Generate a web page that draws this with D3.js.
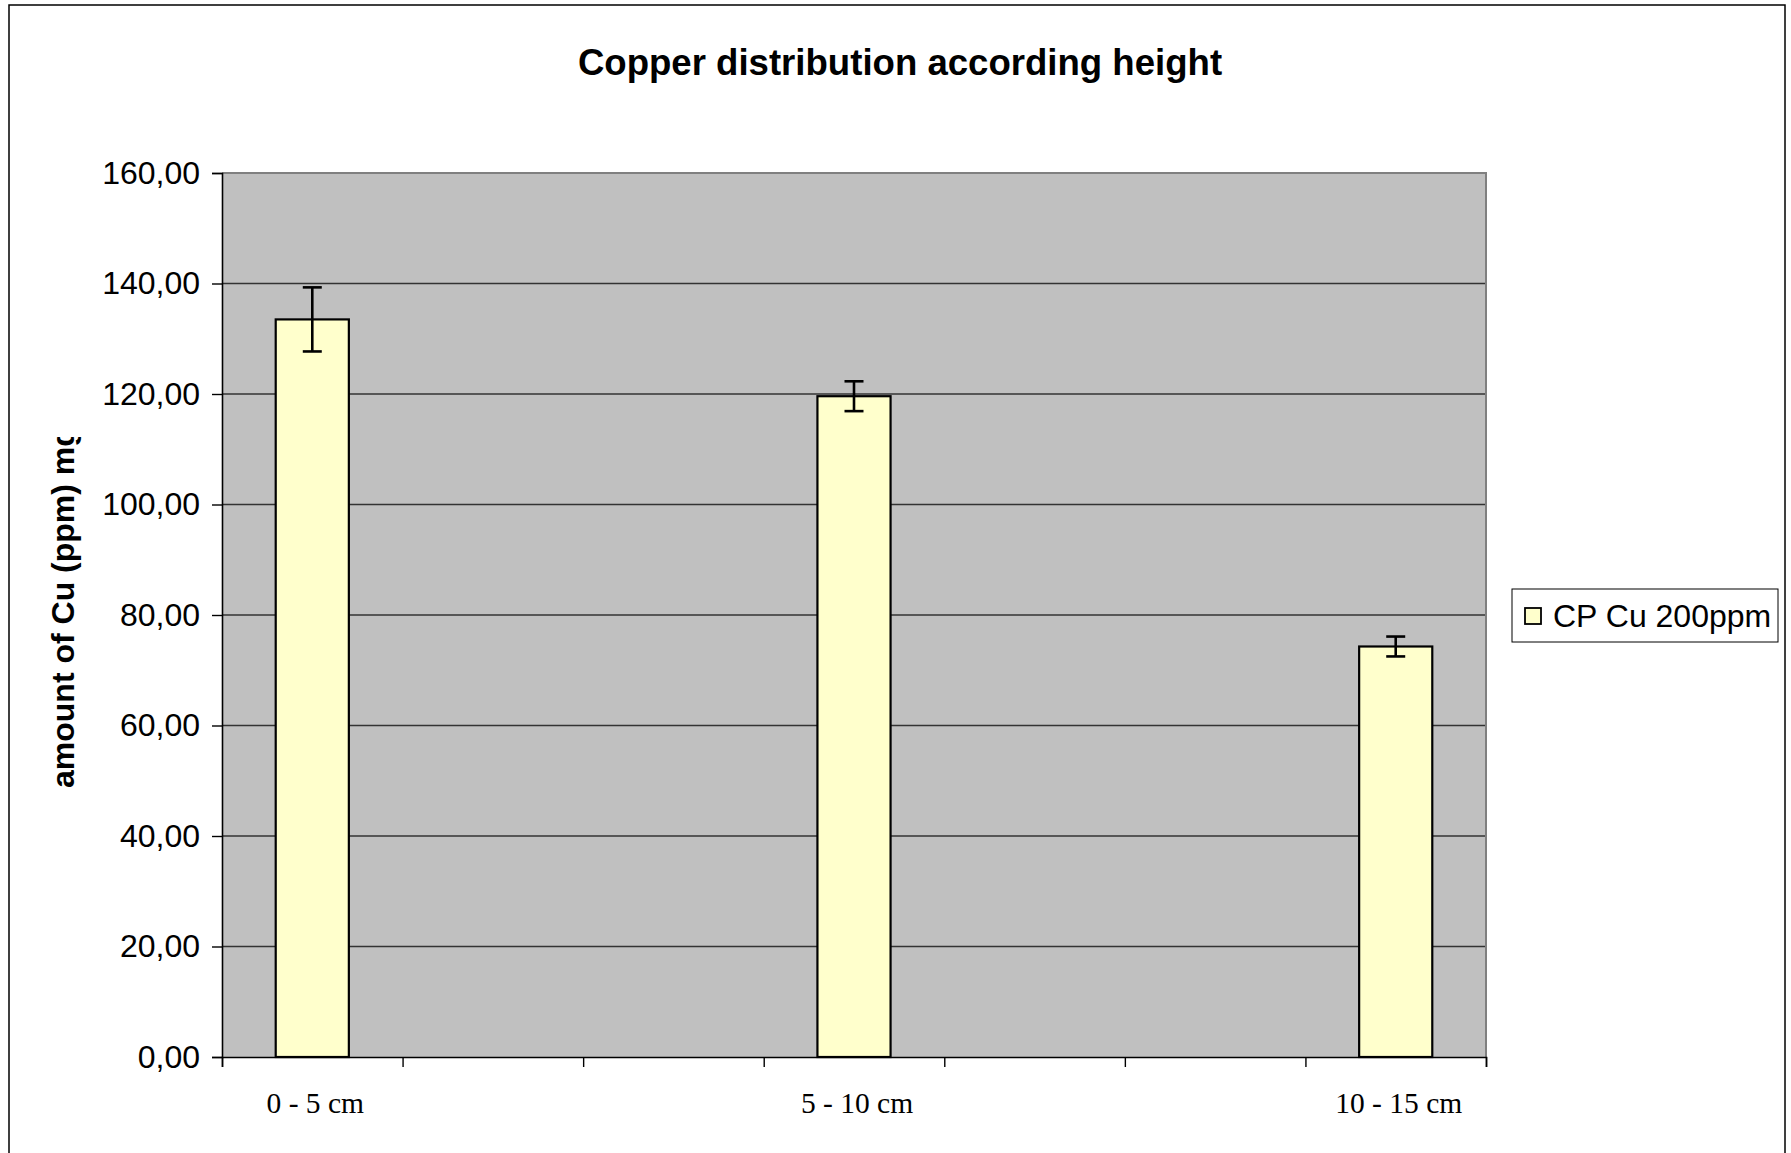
<!DOCTYPE html>
<html>
<head>
<meta charset="utf-8">
<script src="https://cdn.jsdelivr.net/npm/d3@7"></script>
<style>
  html, body { margin: 0; padding: 0; background: #ffffff; }
  svg { display: block; }
</style>
</head>
<body>
<svg id="chart" width="1791" height="1153"></svg>
<script>
// ---- data ----
const title = "Copper distribution according height";
const yAxisTitle = "amount of Cu (ppm) mg/kg";
const seriesName = "CP Cu 200ppm";
const categories = ["0 - 5 cm", "", "", "5 - 10 cm", "", "", "10 - 15 cm"];
const values = [133.5, null, null, 119.6, null, null, 74.3];
const errors = [5.8, null, null, 2.7, null, null, 1.8];
const yTicks = [0, 20, 40, 60, 80, 100, 120, 140, 160];

// ---- layout ----
const svg = d3.select("#chart");
const plot = { left: 222, right: 1486, top: 173, bottom: 1057 };

// outer frame
svg.append("rect")
  .attr("x", 9).attr("y", 5)
  .attr("width", 1776).attr("height", 1170)
  .attr("fill", "#ffffff").attr("stroke", "#000").attr("stroke-width", 1.5);

const x = d3.scaleBand()
  .domain(d3.range(categories.length))
  .range([plot.left, plot.right])
  .paddingInner(0).paddingOuter(0);
const xEdge = d3.scaleLinear().domain([0, categories.length]).range([plot.left, plot.right]);
const y = d3.scaleLinear().domain([0, 160]).range([plot.bottom, plot.top]);

// plot background
svg.append("rect")
  .attr("x", plot.left).attr("y", plot.top)
  .attr("width", plot.right - plot.left).attr("height", plot.bottom - plot.top)
  .attr("fill", "#c0c0c0");

// gridlines
svg.append("g").selectAll("line")
  .data(yTicks.filter(d => d > 0 && d < 160))
  .join("line")
  .attr("x1", plot.left).attr("x2", plot.right)
  .attr("y1", d => y(d)).attr("y2", d => y(d))
  .attr("stroke", "#333").attr("stroke-width", 1.4);

// plot top/right border
svg.append("path")
  .attr("d", `M${plot.left},${plot.top}H${plot.right}V${plot.bottom}`)
  .attr("fill", "none").attr("stroke", "#808080").attr("stroke-width", 2);

// bars
const barW = x.bandwidth() * 0.405;
const data = categories.map((c, i) => ({ i, c, v: values[i], e: errors[i] })).filter(d => d.v != null);

svg.append("g").selectAll("rect")
  .data(data)
  .join("rect")
  .attr("x", d => x(d.i) + x.bandwidth() / 2 - barW / 2)
  .attr("y", d => y(d.v))
  .attr("width", barW)
  .attr("height", d => y(0) - y(d.v))
  .attr("fill", "#ffffcc")
  .attr("stroke", "#000").attr("stroke-width", 2.2);

// error bars
const capW = 19;
const eg = svg.append("g").attr("stroke", "#000").attr("stroke-width", 2.6);
data.forEach(d => {
  const cx = x(d.i) + x.bandwidth() / 2;
  eg.append("line").attr("x1", cx).attr("x2", cx).attr("y1", y(d.v + d.e)).attr("y2", y(d.v - d.e));
  eg.append("line").attr("x1", cx - capW / 2).attr("x2", cx + capW / 2).attr("y1", y(d.v + d.e)).attr("y2", y(d.v + d.e));
  eg.append("line").attr("x1", cx - capW / 2).attr("x2", cx + capW / 2).attr("y1", y(d.v - d.e)).attr("y2", y(d.v - d.e));
});

// y axis
const yAxis = svg.append("g")
  .attr("transform", `translate(${plot.left},0)`)
  .call(d3.axisLeft(y).tickValues(yTicks).tickSize(10).tickPadding(12)
    .tickFormat(d => d.toFixed(2).replace(".", ",")));
yAxis.select(".domain").attr("stroke", "#000").attr("stroke-width", 1.6);
yAxis.selectAll(".tick line").attr("stroke", "#000").attr("stroke-width", 1.4);
yAxis.selectAll(".tick text")
  .attr("font-family", "'Liberation Sans', Arial, sans-serif")
  .attr("font-size", 32).attr("fill", "#000");

// x axis (ticks at category boundaries)
const xAxis = svg.append("g")
  .attr("transform", `translate(0,${plot.bottom})`)
  .call(d3.axisBottom(xEdge).tickValues(d3.range(categories.length + 1)).tickSize(10).tickFormat(""));
xAxis.select(".domain").attr("stroke", "#000").attr("stroke-width", 1.6);
xAxis.selectAll(".tick line").attr("stroke", "#000").attr("stroke-width", 1.4);

// x category labels
svg.append("g").selectAll("text")
  .data(categories.map((c, i) => ({ c, i })).filter(d => d.c !== ""))
  .join("text")
  .attr("x", d => x(d.i) + x.bandwidth() / 2 + 3)
  .attr("y", 1113)
  .attr("text-anchor", "middle")
  .attr("font-family", "'Liberation Serif', 'Times New Roman', serif")
  .attr("font-size", 29.5).attr("fill", "#000")
  .text(d => d.c);

// title
svg.append("text")
  .attr("x", 900).attr("y", 75)
  .attr("text-anchor", "middle")
  .attr("font-family", "'Liberation Sans', Arial, sans-serif")
  .attr("font-weight", "bold").attr("font-size", 36.6).attr("fill", "#000")
  .text(title);

// y axis title (clipped as in the original)
svg.append("clipPath").attr("id", "ytclip")
  .append("rect").attr("x", 30).attr("y", 437).attr("width", 70).attr("height", 400);
svg.append("g").attr("clip-path", "url(#ytclip)")
  .append("text")
  .attr("transform", "translate(74,788) rotate(-90)")
  .attr("text-anchor", "start")
  .attr("font-family", "'Liberation Sans', Arial, sans-serif")
  .attr("font-weight", "bold").attr("font-size", 32).attr("fill", "#000")
  .text(yAxisTitle);

// legend
const lg = svg.append("g");
lg.append("rect").attr("x", 1512).attr("y", 589).attr("width", 266).attr("height", 53)
  .attr("fill", "#fff").attr("stroke", "#000").attr("stroke-width", 1);
lg.append("rect").attr("x", 1525).attr("y", 608).attr("width", 16).attr("height", 16)
  .attr("fill", "#ffffcc").attr("stroke", "#000").attr("stroke-width", 1.8);
lg.append("text").attr("x", 1553).attr("y", 627)
  .attr("font-family", "'Liberation Sans', Arial, sans-serif")
  .attr("font-size", 32).attr("fill", "#000")
  .text(seriesName);
</script>
</body>
</html>
